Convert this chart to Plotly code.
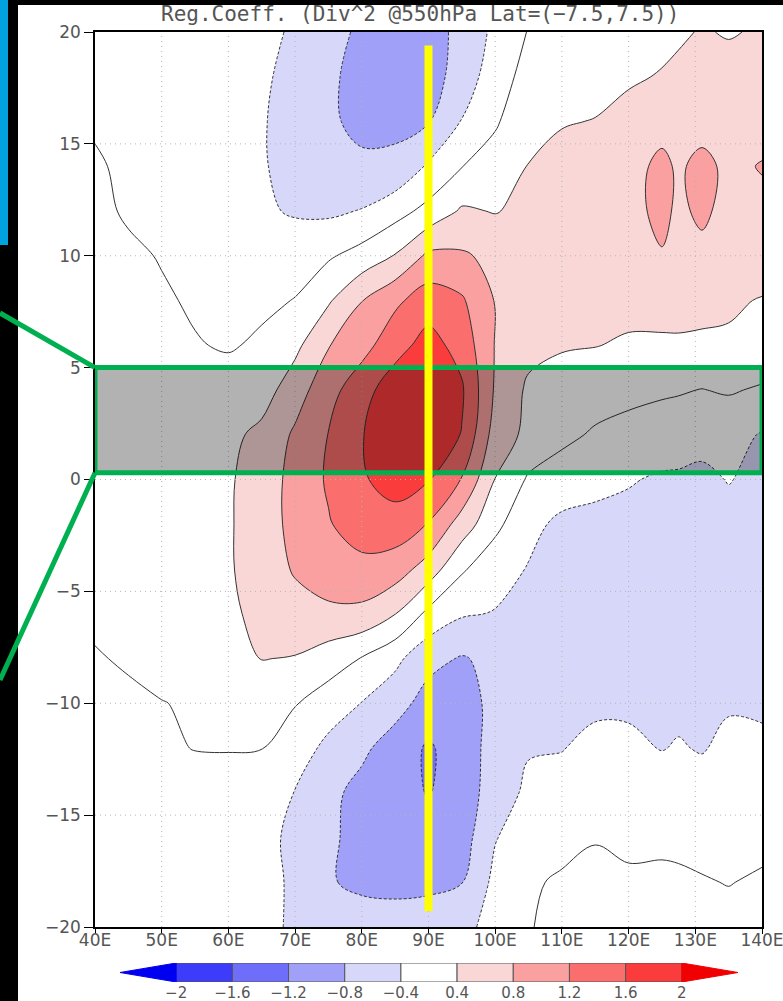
import plotly.graph_objects as go

W, H = 783, 1001

# ---------------- data ----------------
lon = [40, 45, 50, 55, 60, 65, 70, 75, 80, 85, 90, 95, 100, 105, 110, 115, 120, 125, 127.5, 131, 135, 140]
lag = [-20, -18, -16, -14, -12, -10, -8, -6, -4, -2, 0, 2, 4, 6, 8, 10, 12, 14, 16, 18, 20]

lag_m20 = [-0.14, -0.15, -0.17, -0.20, -0.24, -0.31, -0.45, -0.60, -0.68, -0.70, -0.68, -0.52, -0.25, -0.02, 0.10, 0.15, 0.15, 0.14, 0.13, 0.12, 0.10, 0.12]
lag_m18 = [-0.15, -0.16, -0.18, -0.20, -0.24, -0.30, -0.45, -0.78, -0.85, -0.86, -0.85, -0.81, -0.30, -0.05, 0.05, 0.10, 0.06, 0.07, 0.05, 0.02, -0.01, 0.04]
lag_m16 = [-0.15, -0.17, -0.18, -0.20, -0.22, -0.32, -0.46, -0.72, -0.95, -1.00, -1.05, -0.98, -0.42, -0.20, -0.12, -0.02, -0.08, -0.07, -0.07, -0.09, -0.10, -0.08]
lag_m14 = [-0.15, -0.15, -0.15, -0.15, -0.18, -0.26, -0.41, -0.70, -0.92, -1.05, -1.22, -1.02, -0.60, -0.32, -0.30, -0.25, -0.24, -0.25, -0.25, -0.27, -0.24, -0.25]
lag_m12 = [-0.12, -0.10, -0.05, 0.01, 0.02, 0.01, -0.20, -0.50, -0.72, -0.98, -1.25, -1.00, -0.65, -0.43, -0.41, -0.33, -0.35, -0.41, -0.38, -0.42, -0.33, -0.35]
lag_m10 = [-0.08, -0.05, -0.01, 0.04, 0.08, 0.07, 0.02, -0.20, -0.41, -0.65, -0.95, -0.95, -0.70, -0.58, -0.50, -0.45, -0.44, -0.45, -0.46, -0.46, -0.43, -0.44]
lag_m8 = [-0.02, 0.03, 0.12, 0.20, 0.30, 0.41, 0.38, 0.20, -0.02, -0.30, -0.68, -0.83, -0.70, -0.65, -0.66, -0.66, -0.64, -0.62, -0.60, -0.58, -0.56, -0.56]
lag_m6 = [0.05, 0.10, 0.18, 0.24, 0.33, 0.50, 0.65, 0.72, 0.70, 0.41, -0.10, -0.36, -0.42, -0.55, -0.62, -0.66, -0.68, -0.68, -0.68, -0.68, -0.65, -0.65]
lag_m4 = [0.15, 0.20, 0.24, 0.27, 0.36, 0.58, 0.84, 1.00, 1.08, 1.00, 0.62, 0.05, -0.25, -0.42, -0.55, -0.60, -0.62, -0.62, -0.62, -0.60, -0.60, -0.58]
lag_m2 = [0.22, 0.25, 0.27, 0.30, 0.36, 0.60, 0.92, 1.17, 1.40, 1.42, 1.18, 0.62, 0.10, -0.30, -0.48, -0.50, -0.52, -0.55, -0.56, -0.57, -0.55, -0.60]
lag_0 = [0.25, 0.27, 0.28, 0.30, 0.35, 0.60, 0.92, 1.25, 1.55, 1.78, 1.62, 1.18, 0.39, -0.05, -0.20, -0.30, -0.37, -0.45, -0.46, -0.50, -0.38, -0.52]
lag_p2 = [0.25, 0.25, 0.24, 0.25, 0.30, 0.50, 0.86, 1.21, 1.58, 1.88, 1.92, 1.58, 0.62, 0.30, 0.10, -0.05, -0.12, -0.18, -0.20, -0.25, -0.30, -0.42]
lag_p4 = [0.22, 0.20, 0.17, 0.15, 0.15, 0.22, 0.62, 1.05, 1.45, 1.82, 1.90, 1.65, 0.75, 0.33, 0.25, 0.18, 0.10, 0.05, 0.03, -0.01, 0.04, -0.05]
lag_p6 = [0.20, 0.15, 0.08, 0.02, -0.03, 0.05, 0.30, 0.78, 1.05, 1.45, 1.75, 1.45, 0.78, 0.52, 0.43, 0.41, 0.36, 0.36, 0.37, 0.36, 0.35, 0.32]
lag_p8 = [0.15, 0.10, 0.04, -0.04, -0.08, -0.06, 0.01, 0.35, 0.79, 1.12, 1.40, 1.25, 0.78, 0.62, 0.55, 0.52, 0.50, 0.50, 0.48, 0.47, 0.45, 0.38]
lag_p10 = [0.12, 0.06, -0.02, -0.08, -0.12, -0.15, -0.12, -0.05, 0.15, 0.42, 0.88, 0.85, 0.70, 0.62, 0.60, 0.62, 0.65, 0.78, 0.70, 0.72, 0.66, 0.60]
lag_p12 = [0.08, -0.04, -0.08, -0.10, -0.20, -0.33, -0.45, -0.47, -0.38, -0.15, 0.12, 0.45, 0.38, 0.50, 0.58, 0.62, 0.70, 0.88, 0.74, 0.86, 0.70, 0.72]
lag_p14 = [0.03, -0.05, -0.10, -0.15, -0.22, -0.37, -0.52, -0.65, -0.74, -0.72, -0.35, -0.01, 0.18, 0.41, 0.50, 0.58, 0.68, 0.88, 0.75, 0.90, 0.72, 0.82]
lag_p16 = [-0.03, -0.08, -0.13, -0.18, -0.25, -0.37, -0.55, -0.75, -0.88, -0.88, -0.82, -0.38, -0.05, 0.30, 0.38, 0.41, 0.50, 0.68, 0.62, 0.66, 0.58, 0.66]
lag_p18 = [-0.10, -0.12, -0.15, -0.20, -0.26, -0.35, -0.50, -0.72, -0.95, -1.05, -0.95, -0.65, -0.16, 0.12, 0.22, 0.30, 0.36, 0.42, 0.46, 0.50, 0.50, 0.52]
lag_p20 = [-0.15, -0.15, -0.20, -0.22, -0.28, -0.34, -0.43, -0.70, -0.85, -0.95, -0.92, -0.72, -0.30, 0.02, 0.12, 0.18, 0.25, 0.32, 0.36, 0.42, 0.38, 0.43]

# contour levels and shading (one colour per band, from "below -2" to "above 2")
levels = [-2.0, -1.6, -1.2, -0.8, -0.4, 0.0, 0.4, 0.8, 1.2, 1.6, 2.0]
band_colors = ["#0000F0", "#3C3CFA", "#6E6EFA", "#A0A0F8", "#D7D7FA", "#FFFFFF",
               "#FFFFFF", "#FAD7D7", "#FAA0A0", "#FA6E6E", "#FA3C3C", "#F00000"]

# colour-bar boxes (the two white bands share one box) and their edge labels
cbar_box_colors = ["#3C3CFA", "#6E6EFA", "#A0A0F8", "#D7D7FA", "#FFFFFF",
                   "#FAD7D7", "#FAA0A0", "#FA6E6E", "#FA3C3C"]
cbar_labels = ["\u22122", "\u22121.6", "\u22121.2", "\u22120.8", "\u22120.4",
               "0.4", "0.8", "1.2", "1.6", "2"]

x_ticks = [40, 50, 60, 70, 80, 90, 100, 110, 120, 130, 140]
x_tick_text = ["40E", "50E", "60E", "70E", "80E", "90E", "100E", "110E", "120E", "130E", "140E"]
y_ticks = [-20, -15, -10, -5, 0, 5, 10, 15, 20]

title_text = "Reg.Coeff. (Div^2 @550hPa Lat=(\u22127.5,7.5))"

# annotation overlays
box_lag = [0.3, 5.0]          # highlighted lag band
marker_lon = 90               # yellow reference longitude
marker_lag = [-19.3, 19.4]

# ---------------- geometry ----------------
X_DOM = [95 / W, 762 / W]
Y_DOM = [1 - 927 / H, 1 - 32 / H]
X_RANGE = [lon[0], lon[-1]]
Y_RANGE = [lag[0], lag[-1]]


def px_x(v):
    return X_DOM[0] + (v - X_RANGE[0]) / (X_RANGE[1] - X_RANGE[0]) * (X_DOM[1] - X_DOM[0])


def px_y(v):
    return Y_DOM[0] + (v - Y_RANGE[0]) / (Y_RANGE[1] - Y_RANGE[0]) * (Y_DOM[1] - Y_DOM[0])


z = [lag_m20, lag_m18, lag_m16, lag_m14, lag_m12, lag_m10, lag_m8, lag_m6, lag_m4, lag_m2,
     lag_0, lag_p2, lag_p4, lag_p6, lag_p8, lag_p10, lag_p12, lag_p14, lag_p16, lag_p18, lag_p20]

step = round(levels[1] - levels[0], 6)
nb = len(band_colors) - 1
colorscale = [[k / nb, c] for k, c in enumerate(band_colors)]

fig = go.Figure()

# filled shading
fig.add_trace(go.Contour(
    x=lon, y=lag, z=z, autocontour=False,
    contours=dict(start=levels[0], end=levels[-1], size=step, coloring="fill", showlines=False),
    colorscale=colorscale, showscale=False,
    line=dict(width=0, smoothing=1), hoverinfo="skip"))

# solid contours (zero and positive)
fig.add_trace(go.Contour(
    x=lon, y=lag, z=z, autocontour=False,
    contours=dict(start=0, end=levels[-1] + 0.01, size=step, coloring="none"),
    line=dict(color="#333333", width=1, smoothing=1), showscale=False, hoverinfo="skip"))

# dashed contours (negative)
fig.add_trace(go.Contour(
    x=lon, y=lag, z=z, autocontour=False,
    contours=dict(start=levels[0], end=-step + 0.01, size=step, coloring="none"),
    line=dict(color="#333333", width=1, dash="3px,2px", smoothing=1), showscale=False, hoverinfo="skip"))

# ---- colour bar drawn on its own small axis ----
nbox = len(cbar_box_colors)
fig.add_trace(go.Bar(
    x=[i + 0.5 for i in range(nbox)], y=[1] * nbox, width=1,
    marker=dict(color=cbar_box_colors, line=dict(color="#555555", width=1)),
    xaxis="x2", yaxis="y2", hoverinfo="skip", showlegend=False))
fig.add_trace(go.Scatter(
    x=[-1, 0, 0, -1], y=[0.5, 1, 0, 0.5], mode="lines", fill="toself",
    fillcolor=band_colors[0], line=dict(color=band_colors[0], width=1),
    xaxis="x2", yaxis="y2", hoverinfo="skip", showlegend=False))
fig.add_trace(go.Scatter(
    x=[nbox + 1, nbox, nbox, nbox + 1], y=[0.5, 1, 0, 0.5], mode="lines", fill="toself",
    fillcolor=band_colors[-1], line=dict(color=band_colors[-1], width=1),
    xaxis="x2", yaxis="y2", hoverinfo="skip", showlegend=False))

# ---------------- shapes ----------------
shapes = []
# white page and the cyan strip on the black background
shapes.append(dict(type="rect", xref="paper", yref="paper", x0=18 / W, x1=1.0, y0=0.0, y1=1 - 5 / H,
                   fillcolor="white", line=dict(width=0), layer="below"))
shapes.append(dict(type="rect", xref="paper", yref="paper", x0=0.0, x1=8 / W, y0=1 - 245 / H, y1=1.0,
                   fillcolor="#00A3E0", line=dict(width=0), layer="below"))
# dotted grid on top of the shading
for xv in x_ticks[1:-1]:
    shapes.append(dict(type="line", xref="x", yref="y", x0=xv, x1=xv, y0=Y_RANGE[0], y1=Y_RANGE[1],
                       line=dict(color="#B4B4B4", width=1, dash="1px,4px"), layer="above"))
for yv in y_ticks[1:-1]:
    shapes.append(dict(type="line", xref="x", yref="y", x0=X_RANGE[0], x1=X_RANGE[1], y0=yv, y1=yv,
                       line=dict(color="#B4B4B4", width=1, dash="1px,4px"), layer="above"))
# highlighted lag band
shapes.append(dict(type="rect", xref="x", yref="y", x0=X_RANGE[0], x1=X_RANGE[1],
                   y0=box_lag[0], y1=box_lag[1], fillcolor="rgba(0,0,0,0.30)",
                   line=dict(color="#00B050", width=5), layer="above"))
# yellow reference line
shapes.append(dict(type="line", xref="x", yref="y", x0=marker_lon, x1=marker_lon,
                   y0=marker_lag[0], y1=marker_lag[1], line=dict(color="#FFFF00", width=8), layer="above"))
# green connector lines
shapes.append(dict(type="line", xref="paper", yref="paper", x0=0.0, y0=1 - 313 / H,
                   x1=px_x(X_RANGE[0]), y1=px_y(box_lag[1]), line=dict(color="#00B050", width=5), layer="above"))
shapes.append(dict(type="line", xref="paper", yref="paper", x0=0.0, y0=1 - 680 / H,
                   x1=px_x(X_RANGE[0]), y1=px_y(box_lag[0]), line=dict(color="#00B050", width=5), layer="above"))

axis_font = dict(family="DejaVu Sans", size=17, color="#555555")

fig.update_layout(
    width=W, height=H, template="none",
    margin=dict(l=0, r=0, t=0, b=0, pad=0, autoexpand=False),
    paper_bgcolor="black", plot_bgcolor="white", showlegend=False,
    font=dict(family="DejaVu Sans", color="#555555"),
    xaxis=dict(domain=X_DOM, range=X_RANGE, tickvals=x_ticks, ticktext=x_tick_text,
               ticks="outside", ticklen=5, tickwidth=1, tickcolor="black", ticklabelstandoff=-8,
               ticklabeloverflow="allow",
               showline=True, linecolor="black", linewidth=1.5, mirror=True,
               showgrid=False, zeroline=False, tickfont=axis_font, anchor="y"),
    yaxis=dict(domain=Y_DOM, range=Y_RANGE, tickvals=y_ticks,
               ticks="outside", ticklen=9, tickwidth=1, tickcolor="black",
               ticklabeloverflow="allow",
               showline=True, linecolor="black", linewidth=1.5, mirror=True,
               showgrid=False, zeroline=False, tickfont=axis_font, anchor="x"),
    xaxis2=dict(domain=[120 / W, 738 / W], range=[-1, nbox + 1],
                tickvals=list(range(len(cbar_labels))), ticktext=cbar_labels,
                ticks="", showline=False, showgrid=False, zeroline=False,
                ticklabeloverflow="allow",
                tickfont=dict(family="DejaVu Sans", size=15, color="#555555"), anchor="y2"),
    yaxis2=dict(domain=[1 - 982 / H, 1 - 963 / H], range=[0, 1], visible=False, anchor="x2"),
    shapes=shapes,
    annotations=[dict(text=title_text, xref="paper", yref="paper", x=420 / W, y=1 - 14 / H,
                      xanchor="center", yanchor="middle", showarrow=False,
                      font=dict(family="DejaVu Sans Mono", size=21, color="#555555"))],
)

page_css = ("document.documentElement.style.margin='0';document.body.style.margin='0';"
            "document.body.style.background='black';document.documentElement.style.background='black';"
            "document.body.style.overflow='hidden';")
fig.write_html("out.html", post_script=page_css, config={"displayModeBar": False})
